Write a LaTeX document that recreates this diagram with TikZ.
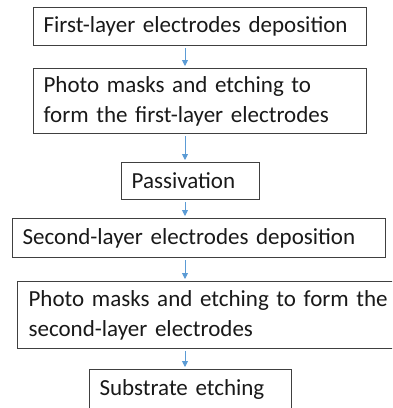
\documentclass[tikz,border=0pt]{standalone}
\usepackage{fontspec}
\setmainfont{Carlito}
\usetikzlibrary{arrows.meta}
\definecolor{flowblue}{RGB}{91,155,213}
\definecolor{boxline}{RGB}{64,64,64}
\tikzset{
stepbox/.style={draw=boxline, line width=1.2pt, anchor=north west,
  inner xsep=10pt, inner ysep=0pt, align=left, text=black!90,
  font=\fontsize{23}{30}\selectfont},
flow/.style={draw=flowblue, line width=0.9pt,
  -{Triangle[width=6pt,length=6pt]}, shorten <=2pt, shorten >=2pt}}

\begin{document}
\begin{tikzpicture}[x=1pt,y=-1pt]

        \useasboundingbox (0,0) rectangle (392,408);
        \fill[white] (0,0) rectangle (392,408);
        \clip (0,0) rectangle (392,408);

        \node[stepbox, text width=313pt, minimum height=38pt] (s1) at (33,7) {First-layer electrodes deposition};
        \node[stepbox, text width=313pt, minimum height=65pt] (s2) at (33,68) {Photo masks and etching to\\form the first-layer electrodes};
        \node[stepbox, text width=118pt, minimum height=37pt] (s3) at (121,162) {Passivation};
        \node[stepbox, text width=353pt, minimum height=39pt] (s4) at (12,218) {Second-layer electrodes deposition};
        \node[stepbox, text width=370pt, minimum height=67pt, inner xsep=11pt] (s5) at (17,281) {Photo masks and etching to form the\\second-layer electrodes};
        \node[stepbox, text width=182pt, minimum height=39pt] (s6) at (89,369) {Substrate etching};

        % arrows all run down one column
        \coordinate (spine) at (185,0);
        \draw[flow] (s1.south -| spine) -- (s2.north -| spine);
        \draw[flow] (s2.south -| spine) -- (s3.north -| spine);
        \draw[flow] (s3.south -| spine) -- (s4.north -| spine);
        \draw[flow] (s4.south -| spine) -- (s5.north -| spine);
        \draw[flow] (s5.south -| spine) -- (s6.north -| spine);

\end{tikzpicture}
\end{document}
